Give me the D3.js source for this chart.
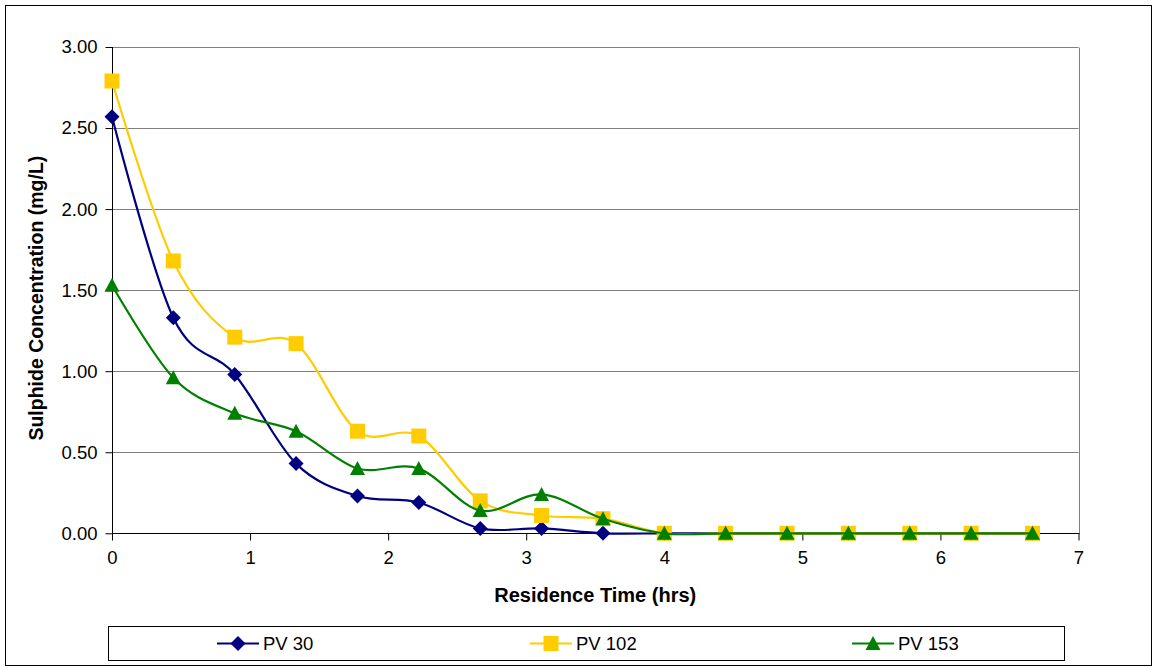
<!DOCTYPE html>
<html>
<head>
<meta charset="utf-8">
<script src="https://cdn.jsdelivr.net/npm/d3@7/dist/d3.min.js"></script>
<style>
  html, body { margin: 0; padding: 0; background: #fff; }
  svg { display: block; font-family: "Liberation Sans", Arial, sans-serif; }
</style>
</head>
<body>
<svg id="chart" width="1155" height="668"></svg>
<script>
// Residence time (hrs) for each sample
const residenceTime = [0, 0.444, 0.889, 1.333, 1.778, 2.222, 2.667, 3.111, 3.556, 4.0, 4.444, 4.889, 5.333, 5.778, 6.222, 6.667];

// Sulphide concentration (mg/L) per pore-volume run
const pv30  = [2.57, 1.33, 0.98, 0.43, 0.23, 0.19, 0.03, 0.03, 0.00, 0, 0, 0, 0, 0, 0, 0];
const pv102 = [2.79, 1.68, 1.21, 1.17, 0.63, 0.60, 0.20, 0.11, 0.09, 0, 0, 0, 0, 0, 0, 0];
const pv153 = [1.53, 0.96, 0.74, 0.63, 0.40, 0.40, 0.14, 0.24, 0.09, 0, 0, 0, 0, 0, 0, 0];

const seriesNames = ["PV 30", "PV 102", "PV 153"];
const xTicks = [0, 1, 2, 3, 4, 5, 6, 7];
const yTicks = [0, 0.5, 1.0, 1.5, 2.0, 2.5, 3.0];

const svg = d3.select("#chart");
const W = 1155, H = 668;

// Outer chart frame
svg.append("rect").attr("x", 5.5).attr("y", 5.5).attr("width", 1146).attr("height", 660)
  .attr("fill", "#fff").attr("stroke", "#000").attr("stroke-width", 1);

const plot = { left: 112, right: 1078.5, top: 47, bottom: 533.3 };
const x = d3.scaleLinear().domain([0, 7]).range([plot.left, plot.right]);
const y = d3.scaleLinear().domain([0, 3]).range([plot.bottom, plot.top]);

// Horizontal gridlines
svg.append("g").selectAll("line").data(yTicks.filter(d => d > 0)).join("line")
  .attr("x1", plot.left).attr("x2", plot.right)
  .attr("y1", d => Math.round(y(d)) + 0.5).attr("y2", d => Math.round(y(d)) + 0.5)
  .attr("stroke", "#808080").attr("stroke-width", 1);

// Right edge of the plot area
svg.append("line").attr("x1", Math.round(plot.right) + 0.5).attr("x2", Math.round(plot.right) + 0.5)
  .attr("y1", Math.round(y(3)) + 0.5).attr("y2", Math.round(y(0)) + 0.5)
  .attr("stroke", "#808080").attr("stroke-width", 1);

// Axes
const yAxis = d3.axisLeft(y).tickValues(yTicks).tickFormat(d3.format(".2f")).tickSize(7).tickPadding(8);
const xAxis = d3.axisBottom(x).tickValues(xTicks).tickFormat(d3.format("d")).tickSize(7).tickPadding(10);

const gy = svg.append("g").attr("transform", `translate(${Math.round(plot.left) + 0.5},0)`).call(yAxis);
const gx = svg.append("g").attr("transform", `translate(0,${Math.round(plot.bottom) + 0.5})`).call(xAxis);
[gy, gx].forEach(g => {
  g.select(".domain").attr("stroke", "#000").attr("stroke-width", 1);
  g.selectAll(".tick line").attr("stroke", "#000");
  g.selectAll(".tick text").attr("fill", "#000").style("font-size", "18.5px")
    .style("font-family", "'Liberation Sans', Arial, sans-serif");
});
gy.select(".domain").attr("d", `M0,${Math.round(y(3))}V${Math.round(y(0)) + 0.5}`);
gx.select(".domain").attr("d", `M${Math.round(plot.left)},0H${Math.round(plot.right) + 0.5}`);
gx.selectAll(".tick line").attr("stroke", "#000");

// Axis titles
svg.append("text").attr("x", (plot.left + plot.right) / 2).attr("y", 602)
  .attr("text-anchor", "middle").style("font-size", "20px").style("font-weight", "bold")
  .text("Residence Time (hrs)");
svg.append("text").attr("transform", `translate(43,${(plot.top + plot.bottom) / 2 + 8}) rotate(-90)`)
  .attr("text-anchor", "middle").style("font-size", "19.5px").style("font-weight", "bold")
  .text("Sulphide Concentration (mg/L)");

// Series definitions
const series = [
  { name: seriesNames[0], values: pv30,  color: "#000080", shape: "diamond" },
  { name: seriesNames[1], values: pv102, color: "#FFCC00", shape: "square" },
  { name: seriesNames[2], values: pv153, color: "#008000", shape: "triangle" }
];

function markerPath(shape) {
  if (shape === "diamond") return "M0,-7.5L7.5,0L0,7.5L-7.5,0Z";
  if (shape === "square") return "M-7.5,-7.5H7.5V7.5H-7.5Z";
  return "M0,-7.5L7.5,6.5L-7.5,6.5Z";
}

const line = d3.line()
  .x(d => x(d[0])).y(d => y(d[1]))
  .curve(d3.curveCardinal.tension(0));

series.forEach(s => {
  const pts = residenceTime.map((t, i) => [t, s.values[i]]);
  svg.append("path").datum(pts).attr("d", line)
    .attr("fill", "none").attr("stroke", s.color).attr("stroke-width", 2.2);
  svg.append("g").selectAll("path").data(pts).join("path")
    .attr("transform", d => `translate(${x(d[0])},${y(d[1])})`)
    .attr("d", markerPath(s.shape)).attr("fill", s.color);
});

// Legend
svg.append("rect").attr("x", 108.5).attr("y", 626.5).attr("width", 956).attr("height", 34)
  .attr("fill", "#fff").attr("stroke", "#000").attr("stroke-width", 1);
const legendX = [217, 530, 852];
const ly = 643.5;
series.forEach((s, i) => {
  const g = svg.append("g").attr("transform", `translate(${legendX[i]},${ly})`);
  g.append("line").attr("x1", 0).attr("x2", 42).attr("y1", 0).attr("y2", 0)
    .attr("stroke", s.color).attr("stroke-width", 2.2);
  g.append("path").attr("transform", "translate(21,0)").attr("d", markerPath(s.shape)).attr("fill", s.color);
  g.append("text").attr("x", 46).attr("y", 6.5).style("font-size", "18.5px").text(s.name);
});
</script>
</body>
</html>
